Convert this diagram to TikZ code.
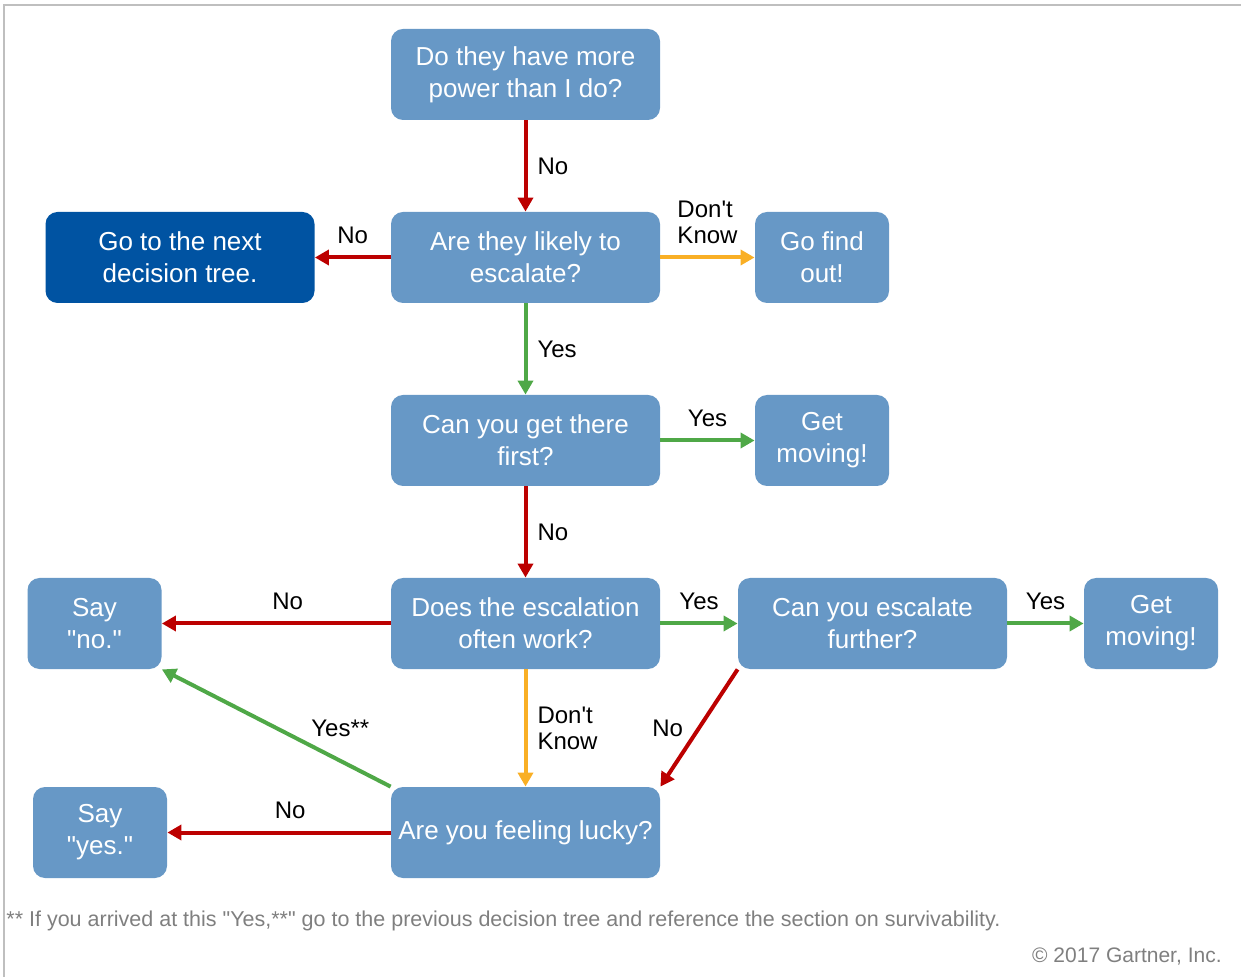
\documentclass[tikz,border=0pt]{standalone}
\usepackage{fontspec}
\setmainfont{Liberation Sans}[Ligatures=TeXOff]
\usetikzlibrary{arrows.meta,positioning}
\definecolor{boxblue}{HTML}{6798C6}
\definecolor{boxdark}{HTML}{0053A2}
\definecolor{nored}{HTML}{BC0000}
\definecolor{yesgreen}{HTML}{4FA847}
\definecolor{dkorange}{HTML}{F9AF25}
\definecolor{notegray}{HTML}{7F7F7F}
\definecolor{framegray}{HTML}{BFBFBF}
\tikzset{
    qbox/.style={
           rectangle, rounded corners=6pt,
           fill=boxblue, text=white,
           minimum width=134.5pt,
           minimum height=45.5pt,
           inner sep=1pt, align=center,
           font=\fontsize{13}{16}\selectfont
           },
    sbox/.style={
           qbox,
           minimum width=67pt
           },
    endbox/.style={
           qbox,
           fill=boxdark
           },
    lbl/.style={
           font=\fontsize{12}{13}\selectfont,
           inner sep=3pt, align=left
           },
    noline/.style={draw=nored, line width=2pt},
    yesline/.style={draw=yesgreen, line width=2pt},
    dkline/.style={draw=dkorange, line width=2pt}
}
\begin{document}
\begin{tikzpicture}[x=0.5pt, y=-0.5pt, >={Triangle[length=7pt,width=7.5pt]},
                    node distance=91.5pt, on grid]
   \useasboundingbox (0,0) rectangle (1241,977);
   \draw[framegray, line width=1pt] (4,977) -- (4,5) -- (1241,5);

   \node[qbox]   (power)                             at (525.5,74.5) {Do they have more\\power than I do?};
   \node[qbox]   (likely)   [below=of power]         {Are they likely to\\escalate?};
   \node[endbox] (nexttree) [left=172.75pt of likely]  {Go to the next\\decision tree.};
   \node[sbox]   (findout)  [right=148.25pt of likely] {Go find\\out!};
   \node[qbox]   (first)    [below=of likely]        {Can you get there\\first?};
   \node[sbox]   (moveA)    [right=148.25pt of first]  {Get\\moving!};
   \node[qbox]   (works)    [below=of first]         {Does the escalation\\often work?};
   \node[sbox]   (sayno)    [left=215.5pt of works]    {Say\\"no."};
   \node[qbox]   (further)  [right=173.5pt of works]   {Can you escalate\\further?};
   \node[sbox]   (moveB)    [right=139.25pt of further] {Get\\moving!};
   \node[qbox]   (lucky)    [below=104.5pt of works]   {Are you feeling lucky?};
   \node[sbox]   (sayyes)   [left=212.75pt of lucky]   {Say\\"yes."};

   \path[->]
    (power)  edge[noline]  node[lbl, right=2pt]  {No} (likely)
    (likely) edge[noline]  node[lbl, above=3pt]  {No} (nexttree)
    (likely) edge[dkline]  node[lbl, above=3pt]  {Don't\\Know} (findout)
    (likely) edge[yesline] node[lbl, right=2pt]  {Yes} (first)
    (first)  edge[yesline] node[lbl, above=3pt]  {Yes} (moveA)
    (first)  edge[noline]  node[lbl, right=2pt]  {No} (works)
    (works)  edge[noline]  node[lbl, above=3pt, pos=0.45] {No} (sayno)
    (works)  edge[yesline] node[lbl, above=3pt]  {Yes} (further)
    (further) edge[yesline] node[lbl, above=3pt] {Yes} (moveB)
    (works)  edge[dkline]  node[lbl, right=2pt]  {Don't\\Know} (lucky)
    (further.south west) edge[noline] node[lbl, left=4pt] {No} (lucky.north east)
    (lucky.north west) edge[yesline] node[lbl, above=8pt, pos=0.22] {Yes**} (sayno.south east)
    (lucky)  edge[noline]  node[lbl, above=3pt, pos=0.45] {No} (sayyes)
    ;

   \node[anchor=base west, inner sep=0pt, text=notegray, font=\fontsize{10.75}{12}\selectfont]
        (note) at (6,926) {** If you arrived at this "Yes,**" go to the previous decision tree and reference the section on survivability.};
   \node[anchor=base east, inner sep=0pt, text=notegray, font=\fontsize{10.5}{12}\selectfont]
        (copy) at (1222,962) {© 2017 Gartner, Inc.};
\end{tikzpicture}
\end{document}
